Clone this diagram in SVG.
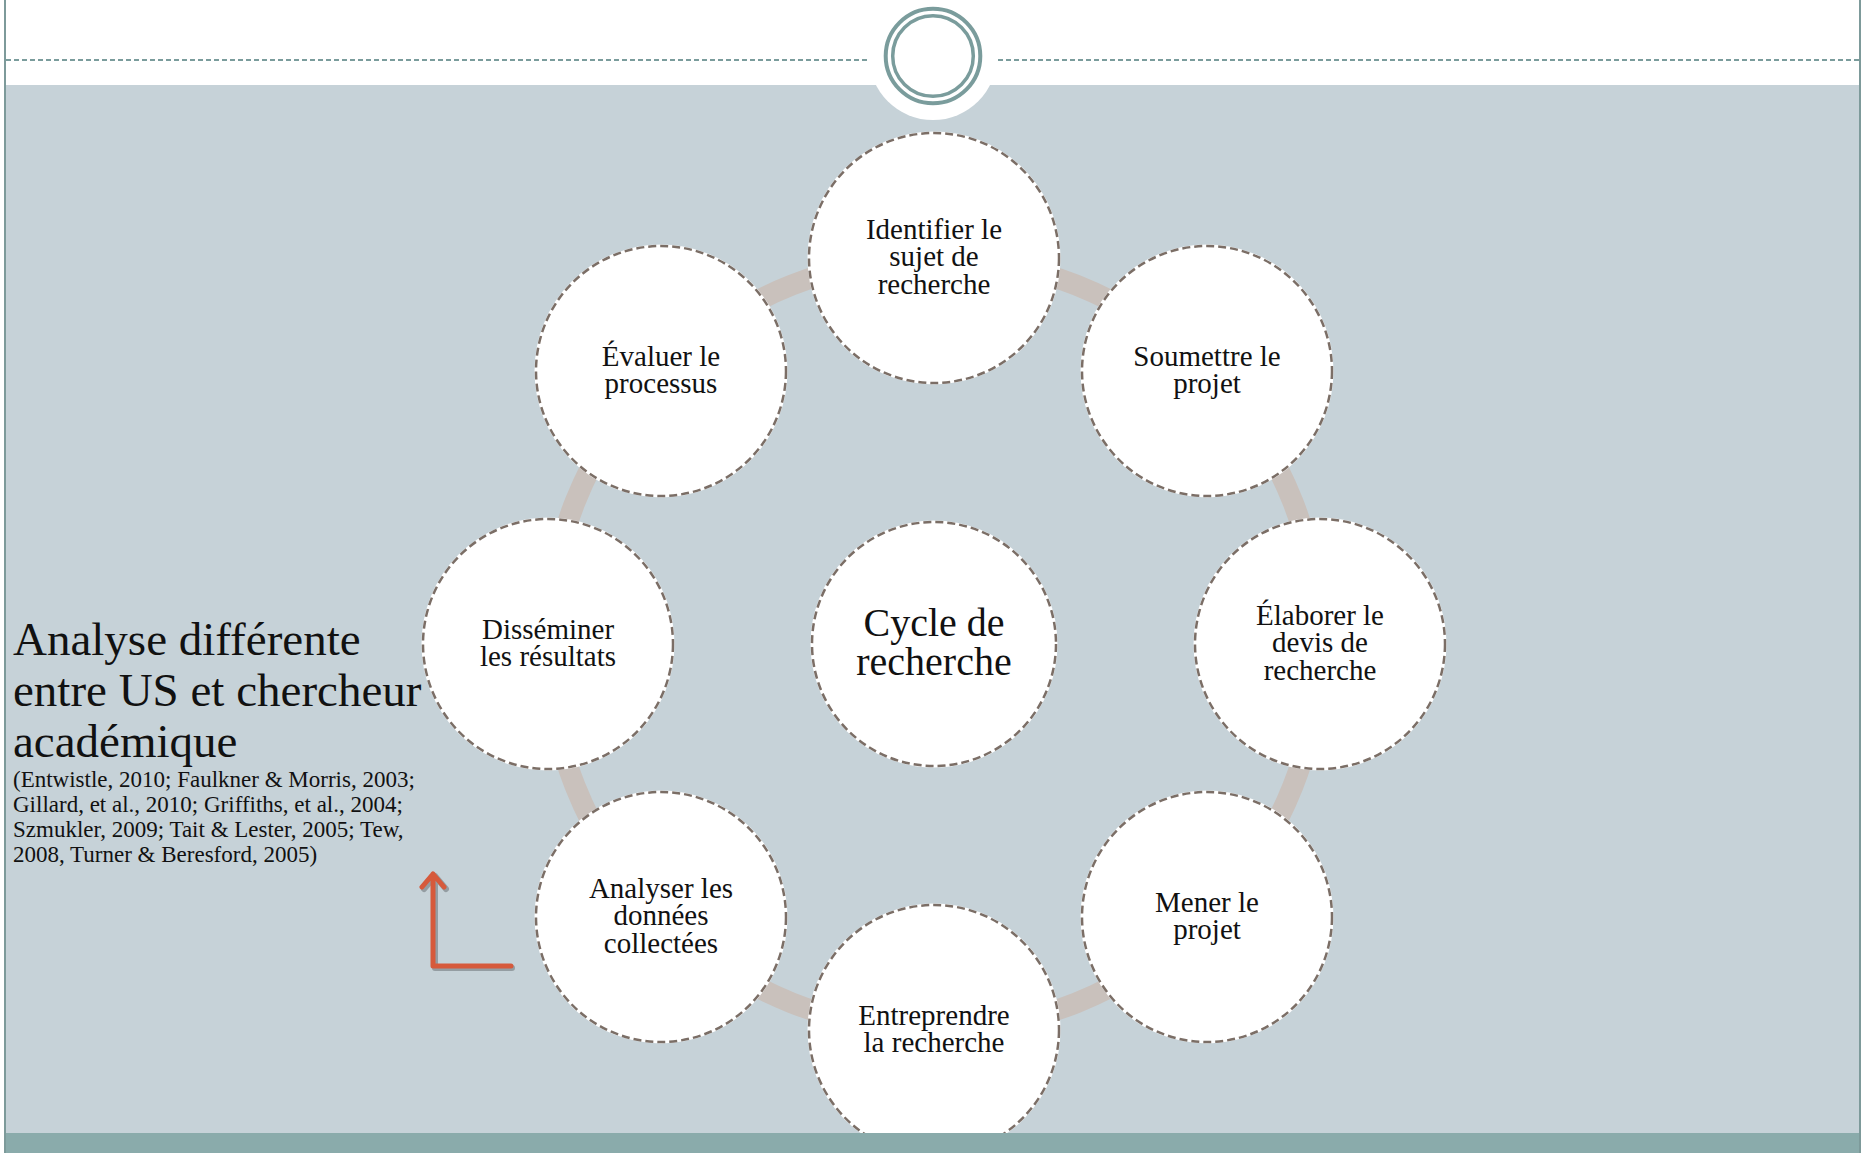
<svg xmlns="http://www.w3.org/2000/svg" width="1865" height="1153" viewBox="0 0 1865 1153">
<defs>
<style>
.node-bg{fill:#ffffff;stroke:#ffffff;stroke-width:3}
.node-ring{fill:none;stroke:#7b6e66;stroke-width:2.5;stroke-dasharray:8 4}
.lbl{font-family:"Liberation Serif","Times New Roman",serif;font-size:29px;fill:#111111;text-anchor:middle}
.lbl-big{font-family:"Liberation Serif","Times New Roman",serif;font-size:40px;fill:#111111;text-anchor:middle}
.side{font-family:"Liberation Serif","Times New Roman",serif;fill:#111111}
.hdr-dash{stroke:#7a9c9c;stroke-width:2;stroke-dasharray:5 3}
</style>
</defs>
<rect x="0" y="0" width="1865" height="1153" fill="#ffffff"/>
<rect x="6" y="85" width="1853" height="1068" fill="#c6d2d8"/>
<line class="hdr-dash" x1="6" y1="60" x2="867" y2="60"/>
<line class="hdr-dash" x1="998" y1="60" x2="1859" y2="60"/>
<circle cx="933" cy="56" r="64" fill="#ffffff"/>
<circle cx="933" cy="56" r="47.3" fill="none" stroke="#7a9c9c" stroke-width="4"/>
<circle cx="933" cy="56" r="40.3" fill="none" stroke="#7a9c9c" stroke-width="3.5"/>

<g id="connectors">
<circle cx="934" cy="644" r="386" fill="none" stroke="#c9c1bc" stroke-width="21"/>
</g>

<g id="node-center">
<circle class="node-bg" cx="934" cy="644" r="122"/>
<circle class="node-ring" cx="934" cy="644" r="122"/>
<text class="lbl-big" x="934" y="636">Cycle de</text>
<text class="lbl-big" x="934" y="675">recherche</text>
</g>

<g id="node-identifier">
<circle class="node-bg" cx="934" cy="258" r="125"/>
<circle class="node-ring" cx="934" cy="258" r="125"/>
<text class="lbl" x="934" y="238.5">Identifier le</text>
<text class="lbl" x="934" y="266">sujet de</text>
<text class="lbl" x="934" y="293.5">recherche</text>
</g>

<g id="node-soumettre">
<circle class="node-bg" cx="1207" cy="371" r="125"/>
<circle class="node-ring" cx="1207" cy="371" r="125"/>
<text class="lbl" x="1207" y="365.5">Soumettre le</text>
<text class="lbl" x="1207" y="393">projet</text>
</g>

<g id="node-elaborer">
<circle class="node-bg" cx="1320" cy="644" r="125"/>
<circle class="node-ring" cx="1320" cy="644" r="125"/>
<text class="lbl" x="1320" y="624.5">Élaborer le</text>
<text class="lbl" x="1320" y="652">devis de</text>
<text class="lbl" x="1320" y="679.5">recherche</text>
</g>

<g id="node-mener">
<circle class="node-bg" cx="1207" cy="917" r="125"/>
<circle class="node-ring" cx="1207" cy="917" r="125"/>
<text class="lbl" x="1207" y="911.5">Mener le</text>
<text class="lbl" x="1207" y="939">projet</text>
</g>

<g id="node-entreprendre">
<circle class="node-bg" cx="934" cy="1030" r="125"/>
<circle class="node-ring" cx="934" cy="1030" r="125"/>
<text class="lbl" x="934" y="1024.5">Entreprendre</text>
<text class="lbl" x="934" y="1052">la recherche</text>
</g>

<g id="node-analyser">
<circle class="node-bg" cx="661" cy="917" r="125"/>
<circle class="node-ring" cx="661" cy="917" r="125"/>
<text class="lbl" x="661" y="897.5">Analyser les</text>
<text class="lbl" x="661" y="925">données</text>
<text class="lbl" x="661" y="952.5">collectées</text>
</g>

<g id="node-disseminer">
<circle class="node-bg" cx="548" cy="644" r="125"/>
<circle class="node-ring" cx="548" cy="644" r="125"/>
<text class="lbl" x="548" y="638.5">Disséminer</text>
<text class="lbl" x="548" y="666">les résultats</text>
</g>

<g id="node-evaluer">
<circle class="node-bg" cx="661" cy="371" r="125"/>
<circle class="node-ring" cx="661" cy="371" r="125"/>
<text class="lbl" x="661" y="365.5">Évaluer le</text>
<text class="lbl" x="661" y="393">processus</text>
</g>

<g id="side-text">
<text class="side" x="13" y="655" font-size="47">Analyse différente</text>
<text class="side" x="13" y="706" font-size="47">entre US et chercheur</text>
<text class="side" x="13" y="757" font-size="47">académique</text>
<text class="side" x="13" y="787" font-size="23">(Entwistle, 2010; Faulkner &amp; Morris, 2003;</text>
<text class="side" x="13" y="812" font-size="23">Gillard, et al., 2010; Griffiths, et al., 2004;</text>
<text class="side" x="13" y="837" font-size="23">Szmukler, 2009; Tait &amp; Lester, 2005; Tew,</text>
<text class="side" x="13" y="862" font-size="23">2008, Turner &amp; Beresford, 2005)</text>
</g>

<g id="red-arrow" fill="none" stroke-linecap="round" stroke-linejoin="round">
<path d="M512,968 L435,968 L435,876 M424,889 L435,876 L446,889" stroke="#000000" stroke-opacity="0.25" stroke-width="6"/>
<path d="M511,966 L433,966 L433,874 M422,887 L433,874 L444,887" stroke="#d65a3c" stroke-width="5"/>
</g>

<rect x="6" y="1133" width="1853" height="20" fill="#8aabab"/>
<rect x="4" y="0" width="2" height="1153" fill="#7d9a9a"/>
<rect x="1859" y="0" width="2" height="1153" fill="#7d9a9a"/>
</svg>
